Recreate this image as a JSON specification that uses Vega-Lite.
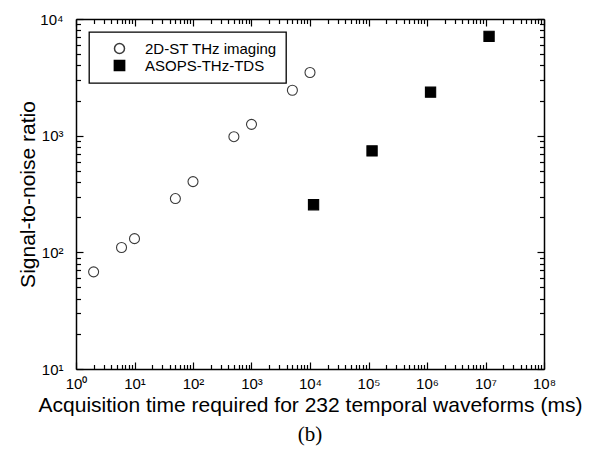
{
  "$schema": "https://vega.github.io/schema/vega-lite/v6.json",
  "width": 468,
  "height": 350,
  "autosize": "none",
  "padding": {"left": 76, "top": 19, "right": 45, "bottom": 84},
  "background": "white",
  "title": {"text": "(b)", "orient": "bottom", "font": "Liberation Serif", "fontSize": 21, "fontWeight": "normal", "color": "black", "offset": 9},
  "config": {
    "view": {"stroke": null},
    "font": "Liberation Sans",
    "axis": {"grid": false, "domainColor": "black", "tickColor": "black", "labelColor": "black", "titleColor": "black", "labelFont": "Liberation Sans", "titleFont": "Liberation Sans", "titleFontWeight": "normal", "labelFlush": false, "labelOverlap": false, "labelBound": false, "domainWidth": 1.5, "tickWidth": 1.2},
    "legend": {"orient": "none", "legendX": 13, "legendY": 13, "padding": 9, "strokeColor": "black", "strokeWidth": 1.3, "fillColor": "white", "labelFont": "Liberation Sans", "labelFontSize": 15, "labelColor": "black", "labelOffset": 18, "symbolOffset": 14, "rowPadding": 0, "labelLimit": 400}
  },
  "data": {"values": [
    {"series": "2D-ST THz imaging", "time": 2, "snr": 68},
    {"series": "2D-ST THz imaging", "time": 6, "snr": 110},
    {"series": "2D-ST THz imaging", "time": 10, "snr": 131},
    {"series": "2D-ST THz imaging", "time": 50, "snr": 289},
    {"series": "2D-ST THz imaging", "time": 100, "snr": 404},
    {"series": "2D-ST THz imaging", "time": 500, "snr": 980},
    {"series": "2D-ST THz imaging", "time": 1000, "snr": 1250},
    {"series": "2D-ST THz imaging", "time": 5000, "snr": 2450},
    {"series": "2D-ST THz imaging", "time": 10000, "snr": 3480},
    {"series": "ASOPS-THz-TDS", "time": 11500, "snr": 256},
    {"series": "ASOPS-THz-TDS", "time": 115000, "snr": 740},
    {"series": "ASOPS-THz-TDS", "time": 1150000, "snr": 2360},
    {"series": "ASOPS-THz-TDS", "time": 11500000, "snr": 7100}
  ]},
  "resolve": {"axis": {"x": "independent", "y": "independent"}},
  "layer": [
    {
      "mark": {"type": "point", "filled": true, "strokeWidth": 1.1, "opacity": 1},
      "encoding": {
        "x": {"field": "time", "type": "quantitative", "scale": {"type": "log", "domain": [1, 100000000], "nice": false},
          "axis": {"orient": "bottom", "values": [1, 10, 100, 1000, 10000, 100000, 1000000, 10000000, 100000000], "tickSize": -7, "labelPadding": 14, "labelFontSize": 15,
            "labelExpr": "'10' + ['⁰','¹','²','³','⁴','⁵','⁶','⁷','⁸'][round(log(datum.value)/LN10)]",
            "title": "Acquisition time required for 232 temporal waveforms (ms)", "titleFontSize": 21, "titlePadding": 3}},
        "y": {"field": "snr", "type": "quantitative", "scale": {"type": "log", "domain": [10, 10000], "nice": false},
          "axis": {"orient": "left", "values": [10, 100, 1000, 10000], "tickSize": -7, "labelPadding": 20, "labelFontSize": 15,
            "labelExpr": "'10' + ['⁰','¹','²','³','⁴','⁵','⁶','⁷','⁸'][round(log(datum.value)/LN10)]",
            "title": "Signal-to-noise ratio", "titleFontSize": 21, "titlePadding": 1}},
        "shape": {"field": "series", "type": "nominal", "title": null, "scale": {"domain": ["2D-ST THz imaging", "ASOPS-THz-TDS"], "range": ["circle", "square"]}},
        "fill": {"field": "series", "type": "nominal", "title": null, "scale": {"domain": ["2D-ST THz imaging", "ASOPS-THz-TDS"], "range": ["white", "black"]}},
        "stroke": {"field": "series", "type": "nominal", "title": null, "scale": {"domain": ["2D-ST THz imaging", "ASOPS-THz-TDS"], "range": ["#3a3a3a", "black"]}},
        "size": {"field": "series", "type": "nominal", "title": null, "scale": {"domain": ["2D-ST THz imaging", "ASOPS-THz-TDS"], "range": [100, 105]}}
      }
    },
    {
      "mark": {"type": "point", "opacity": 0},
      "encoding": {
        "x": {"field": "time", "type": "quantitative",
          "axis": {"orient": "bottom", "values": [2,3,4,5,6,7,8,9,20,30,40,50,60,70,80,90,200,300,400,500,600,700,800,900,2000,3000,4000,5000,6000,7000,8000,9000,20000,30000,40000,50000,60000,70000,80000,90000,200000,300000,400000,500000,600000,700000,800000,900000,2000000,3000000,4000000,5000000,6000000,7000000,8000000,9000000,20000000,30000000,40000000,50000000,60000000,70000000,80000000,90000000], "tickSize": -4.5, "labels": false, "domain": false, "title": null}},
        "y": {"field": "snr", "type": "quantitative",
          "axis": {"orient": "left", "values": [20,30,40,50,60,70,80,90,200,300,400,500,600,700,800,900,2000,3000,4000,5000,6000,7000,8000,9000], "tickSize": -4.5, "labels": false, "domain": false, "title": null}}
      }
    },
    {
      "mark": {"type": "point", "opacity": 0},
      "encoding": {
        "x": {"field": "time", "type": "quantitative",
          "axis": {"orient": "top", "values": [1, 10, 100, 1000, 10000, 100000, 1000000, 10000000, 100000000], "tickSize": -7, "labels": false, "title": null}},
        "y": {"field": "snr", "type": "quantitative",
          "axis": {"orient": "right", "values": [10, 100, 1000, 10000], "tickSize": -7, "labels": false, "title": null}}
      }
    },
    {
      "mark": {"type": "point", "opacity": 0},
      "encoding": {
        "x": {"field": "time", "type": "quantitative",
          "axis": {"orient": "top", "values": [2,3,4,5,6,7,8,9,20,30,40,50,60,70,80,90,200,300,400,500,600,700,800,900,2000,3000,4000,5000,6000,7000,8000,9000,20000,30000,40000,50000,60000,70000,80000,90000,200000,300000,400000,500000,600000,700000,800000,900000,2000000,3000000,4000000,5000000,6000000,7000000,8000000,9000000,20000000,30000000,40000000,50000000,60000000,70000000,80000000,90000000], "tickSize": -4.5, "labels": false, "domain": false, "title": null}},
        "y": {"field": "snr", "type": "quantitative",
          "axis": {"orient": "right", "values": [20,30,40,50,60,70,80,90,200,300,400,500,600,700,800,900,2000,3000,4000,5000,6000,7000,8000,9000], "tickSize": -4.5, "labels": false, "domain": false, "title": null}}
      }
    }
  ]
}
